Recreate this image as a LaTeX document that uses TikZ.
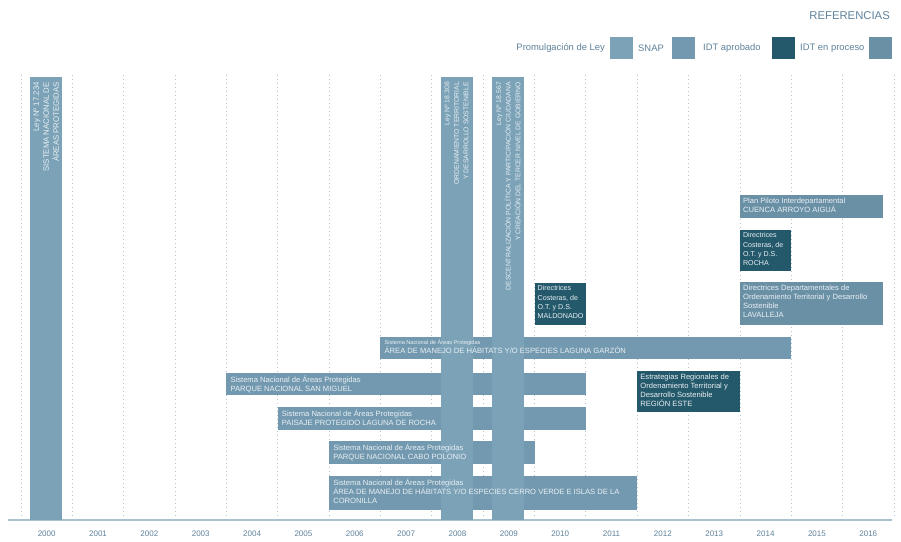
\documentclass[tikz,border=0pt]{standalone}
\usepackage{fontspec}
\setmainfont{Liberation Sans}
\definecolor{leyc}{HTML}{7BA2B7}
\definecolor{snapc}{HTML}{7299AF}
\definecolor{aprobc}{HTML}{24596B}
\definecolor{procc}{HTML}{6A90A6}
\definecolor{gridc}{HTML}{AFC3CF}
\definecolor{axisc}{HTML}{A9C0CD}
\definecolor{labelc}{HTML}{5E819A}
\definecolor{txtc}{HTML}{EAF0F4}
\newcommand\mysmalltxt{\fontsize{5.6}{7}\selectfont}
\tikzset{
  gridline/.style={draw=gridc, line width=0.8pt, dash pattern=on 0.8pt off 3.2pt},
  axisline/.style={draw=axisc, line width=1.6pt},
  box/.style={anchor=north west, inner sep=0pt, outer sep=0pt, draw=none},
  leybox/.style={box, fill=leyc},
  snapbox/.style={box, fill=snapc},
  aprobbox/.style={box, fill=aprobc},
  procbox/.style={box, fill=procc},
  bartext/.style={anchor=north west, inner sep=0pt, align=left, text=txtc,
    font=\fontsize{7.6}{9.2}\selectfont},
  narrowtext/.style={bartext, font=\fontsize{7.1}{9.2}\selectfont},
  vtext/.style={rotate=90, anchor=east, inner sep=0pt, align=right, text=txtc,
    font=\fontsize{6.8}{9.6}\selectfont},
  yearlbl/.style={text=labelc, font=\fontsize{8}{9}\selectfont, inner sep=0pt},
  leglbl/.style={text=labelc, font=\fontsize{9.4}{11}\selectfont, inner sep=0pt},
  legsq/.style={box, minimum width=23pt, minimum height=22pt},
}
\begin{document}
\begin{tikzpicture}[x=1pt,y=-1pt]
\useasboundingbox (0,0) rectangle (901,541);
% grid
\foreach \k in {0,...,17}{
  \coordinate (gt\k) at ({21+51.35*\k},75);
  \coordinate (gb\k) at ({21+51.35*\k},519);
  \draw[gridline] (gt\k) -- (gb\k);
}
% axis
\coordinate (axL) at (8,520);
\coordinate (axR) at (892,520);
\draw[axisline] (axL) -- (axR);
\foreach \k in {0,...,16}{
  \pgfmathtruncatemacro\yr{2000+\k}
  \node[yearlbl] (yr\k) at ({21+51.35*(\k+0.5)},534) {\yr};
}
% legend
\node[text=labelc, font=\fontsize{11.3}{13}\selectfont, inner sep=0pt, anchor=east] (refs) at (890,16) {REFERENCIAS};
\node[leglbl, anchor=east] (lg1t) at (605,48) {Promulgación de Ley};
\node[legsq, fill=leyc] (lg1) at (610,37) {};
\node[leglbl, anchor=west] (lg2t) at (638,48) {SNAP};
\node[legsq, fill=snapc] (lg2) at (672,37) {};
\node[leglbl, anchor=west] (lg3t) at (703,48) {IDT aprobado};
\node[legsq, fill=aprobc] (lg3) at (772,37) {};
\node[leglbl, anchor=west] (lg4t) at (800,48) {IDT en proceso};
\node[legsq, fill=procc] (lg4) at (869,37) {};
% horizontal SNAP bars
\node[snapbox, minimum width=410.8pt, minimum height=22pt] (garzon) at (380.45,337) {};
\node[snapbox, minimum width=359.45pt, minimum height=22pt] (sanmiguel) at (226.4,373) {};
\node[snapbox, minimum width=308.1pt, minimum height=23pt] (lrocha) at (277.75,407) {};
\node[snapbox, minimum width=205.4pt, minimum height=23pt] (polonio) at (329.1,441) {};
\node[snapbox, minimum width=308.1pt, minimum height=34pt] (cerro) at (329.1,476) {};
% IDT boxes
\node[aprobbox, minimum width=51.35pt, minimum height=42pt] (maldo) at (534.5,283) {};
\node[aprobbox, minimum width=51.35pt, minimum height=41pt] (rocha) at (739.9,230) {};
\node[aprobbox, minimum width=102.7pt, minimum height=41pt] (estrat) at (637.2,371) {};
\node[procbox, minimum width=143pt, minimum height=23pt] (piloto) at (739.9,195) {};
\node[procbox, minimum width=143pt, minimum height=43pt] (lavalleja) at (739.9,282) {};
% vertical law bars
\node[leybox, minimum width=32pt, minimum height=443pt] (ley2000) at (30.2,77) {};
\node[leybox, minimum width=32pt, minimum height=443pt] (ley2008) at (440.5,77) {};
\node[leybox, minimum width=32pt, minimum height=443pt] (ley2009) at (492.3,77) {};
% vertical texts
\node[vtext, font=\fontsize{7.8}{10}\selectfont] (t2000) at ([yshift=-5]ley2000.north) {Ley Nº 17.234\\SISTEMA NACIONAL DE\\ÁREAS PROTEGIDAS};
\node[vtext] (t2008) at ([yshift=-5]ley2008.north) {Ley Nº 18.308\\ORDENAMIENTO TERRITORIAL\\Y DESARROLLO SOSTENIBLE};
\node[vtext] (t2009) at ([yshift=-5]ley2009.north) {Ley Nº 18.567\\DESCENTRALIZACIÓN POLÍTICA Y PARTICIPACIÓN CIUDADANA\\Y CREACIÓN DEL TERCER NIVEL DE GOBIERNO};
% bar texts
\node[bartext] (garzonT) at ([shift={(4,2)}]garzon.north west) {{\mysmalltxt Sistema Nacional de Áreas Protegidas}\\ÁREA DE MANEJO DE HÁBITATS Y/O ESPECIES LAGUNA GARZÓN};
\node[bartext] (sanmiguelT) at ([shift={(4,2.5)}]sanmiguel.north west) {Sistema Nacional de Áreas Protegidas\\PARQUE NACIONAL SAN MIGUEL};
\node[bartext] (lrochaT) at ([shift={(4,2.5)}]lrocha.north west) {Sistema Nacional de Áreas Protegidas\\PAISAJE PROTEGIDO LAGUNA DE ROCHA};
\node[bartext] (polonioT) at ([shift={(4,2.5)}]polonio.north west) {Sistema Nacional de Áreas Protegidas\\PARQUE NACIONAL CABO POLONIO};
\node[bartext] (cerroT) at ([shift={(4,2.5)}]cerro.north west) {Sistema Nacional de Áreas Protegidas\\ÁREA DE MANEJO DE HÁBITATS Y/O ESPECIES CERRO VERDE E ISLAS DE LA\\CORONILLA};
\node[narrowtext] (maldoT) at ([shift={(3,2.5)}]maldo.north west) {Directrices\\Costeras, de\\O.T. y D.S.\\MALDONADO};
\node[narrowtext] (rochaT) at ([shift={(3,2.5)}]rocha.north west) {Directrices\\Costeras, de\\O.T. y D.S.\\ROCHA};
\node[bartext] (estratT) at ([shift={(3,2.5)}]estrat.north west) {Estrategias Regionales de\\Ordenamiento Territorial y\\Desarrollo Sostenible\\REGIÓN ESTE};
\node[bartext] (pilotoT) at ([shift={(3,2.5)}]piloto.north west) {Plan Piloto Interdepartamental\\CUENCA ARROYO AIGUÁ};
\node[bartext] (lavallejaT) at ([shift={(3,2.5)}]lavalleja.north west) {Directrices Departamentales de\\Ordenamiento Territorial y Desarrollo\\Sostenible\\LAVALLEJA};
\end{tikzpicture}
\end{document}
